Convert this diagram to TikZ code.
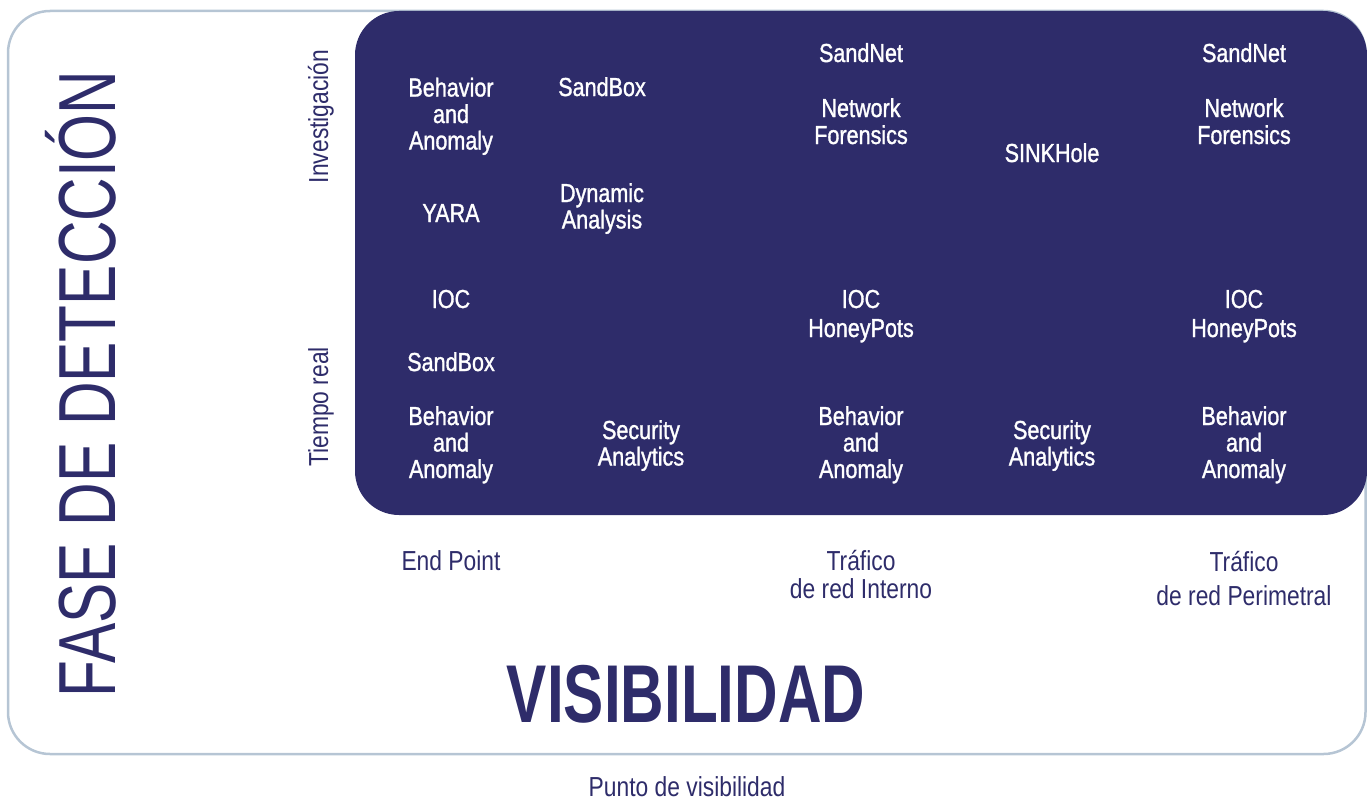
\documentclass[tikz,border=0pt]{standalone}
\usepackage{fontspec}
\setmainfont{Liberation Sans}[FakeStretch=0.83]
\newfontfamily\wfont{Liberation Sans}[FakeStretch=0.83, FakeBold=1.2]
\newfontfamily\bigfont{Liberation Sans}[FakeStretch=0.735]
\newfontfamily\fasefont{Liberation Sans}[FakeStretch=0.745]
\definecolor{navy}{RGB}{46,44,106}
\definecolor{framec}{RGB}{182,197,212}
\begin{document}
\begin{tikzpicture}[x=1pt,y=-1pt,
  wt/.style={text=white, font=\wfont\fontsize{26}{26.5}\selectfont, align=center, anchor=base, inner sep=0pt},
  bl/.style={text=navy, font=\fontsize{27.5}{28}\selectfont, align=center, anchor=base, inner sep=0pt},
  side/.style={text=navy, font=\fontsize{27.5}{28}\selectfont, rotate=90, anchor=base, inner sep=0pt}]
\useasboundingbox (0,0) rectangle (1367,800);
\draw[framec, line width=2.5pt, rounded corners=42pt] (8,11) rectangle (1365.5,754);
\fill[navy, rounded corners=44pt] (355,11) rectangle (1367,515);
% column 1 (anchor = baseline of last line)
\node[wt] (c1ba) at (451,149.5) {Behavior\\and\\Anomaly};
\node[wt] (c1yara) at (451,222) {YARA};
\node[wt] (c1ioc) at (451,308) {IOC};
\node[wt] (c1sb) at (451,371) {SandBox};
\node[wt] (c1ba2) at (451,478) {Behavior\\and\\Anomaly};
% column 2
\node[wt] (c2sb) at (602,96) {SandBox};
\node[wt] (c2da) at (602,228.5) {Dynamic\\Analysis};
\node[wt] (c2sa) at (641,465.5) {Security\\Analytics};
% column 3
\node[wt] (c3sn) at (861,62) {SandNet};
\node[wt] (c3nf) at (861,144) {Network\\[0.5pt]Forensics};
\node[wt] (c3ioc) at (861,337) {IOC\\[2.5pt]HoneyPots};
\node[wt] (c3ba) at (861,478) {Behavior\\and\\Anomaly};
% column 4
\node[wt] (c4sh) at (1052,162) {SINKHole};
\node[wt] (c4sa) at (1052,465.5) {Security\\Analytics};
% column 5
\node[wt] (c5sn) at (1244,62) {SandNet};
\node[wt] (c5nf) at (1244,144) {Network\\[0.5pt]Forensics};
\node[wt] (c5ioc) at (1244,337) {IOC\\[2.5pt]HoneyPots};
\node[wt] (c5ba) at (1244,478) {Behavior\\and\\Anomaly};
% bottom labels
\node[bl] (ep) at (451,570) {End Point};
\node[bl] (tri) at (861,598) {Tráfico\\de red Interno};
\node[bl] (trp) at (1244,605) {Tráfico\\[5.5pt]de red Perimetral};
\node[bl] (pv) at (687,796) {Punto de visibilidad};
% side labels
\node[side] (inv) at (328,116.5) {Investigación};
\node[side] (tr) at (328,407) {Tiempo real};
% big titles
\node[text=navy, font=\bigfont\bfseries\fontsize{82}{82}\selectfont, anchor=base, inner sep=0pt] (vis) at (686,722) {VISIBILIDAD};
\node[text=navy, font=\fasefont\fontsize{81}{81}\selectfont, rotate=90, anchor=base, inner sep=0pt] (fase) at (115,384) {FASE DE DETECCIÓN};
\end{tikzpicture}
\end{document}
